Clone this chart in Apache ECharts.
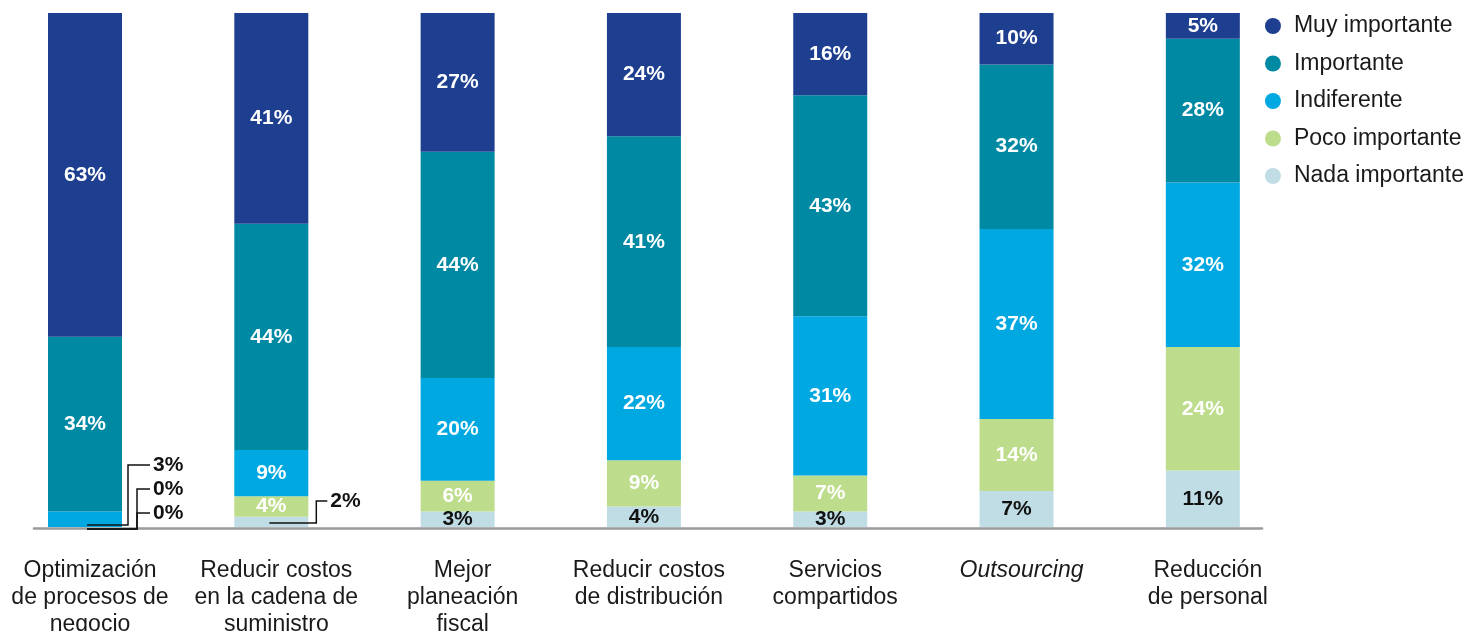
<!DOCTYPE html>
<html>
<head>
<meta charset="utf-8">
<script src="https://cdn.jsdelivr.net/npm/echarts@6/dist/echarts.min.js"></script>
<style>
html,body{margin:0;padding:0;background:#fff;}
#chart{width:1465px;height:631px;}
</style>
</head>
<body>
<div id="chart"></div>
<script>
// ---- data ----
var categories = [
  'Optimización\nde procesos de\nnegocio',
  'Reducir costos\nen la cadena de\nsuministro',
  'Mejor\nplaneación\nfiscal',
  'Reducir costos\nde distribución',
  'Servicios\ncompartidos',
  'Outsourcing',
  'Reducción\nde personal'
];
var seriesNames = ['Nada importante', 'Poco importante', 'Indiferente', 'Importante', 'Muy importante'];
var nadaImportante = [0, 2, 3, 4, 3, 7, 11];
var pocoImportante = [0, 4, 6, 9, 7, 14, 24];
var indiferente    = [3, 9, 20, 22, 31, 37, 32];
var importante     = [34, 44, 44, 41, 43, 32, 28];
var muyImportante  = [63, 41, 27, 24, 16, 10, 5];
var seriesValues = [nadaImportante, pocoImportante, indiferente, importante, muyImportante];
// segments labelled outside with a leader line: [category index, series index]
var leaderSegments = [[0, 2], [0, 1], [0, 0], [1, 0]];

// ---- style / layout ----
var colors = ['#c0dde6', '#bddd8c', '#00a8e1', '#0089a3', '#1e3f8f'];
var labelColors = ['#111', '#fff', '#fff', '#fff', '#fff'];
var FONT = "'Liberation Sans', Arial, sans-serif";
// pixel offsets for leader lines (start dx, anchor dy, elbow dx, end dx, label dy from base)
var leaderLayout = [
  {sx: 2, ady: -2, ex: 43, end: 65, ly: -62},
  {sx: 2, ady: 2, ex: 52, end: 65, ly: -38},
  {sx: 2, ady: 2, ex: 52, end: 65, ly: -14},
  {sx: -2, ady: -4, ex: 45, end: 56, ly: -26}
];

function isLeader(s, c) {
  return leaderSegments.some(function (p) { return p[0] === c && p[1] === s; });
}

var chart = echarts.init(document.getElementById('chart'), null, {renderer: 'canvas'});

var barSeries = seriesNames.map(function (name, s) {
  return {
    name: name,
    type: 'bar',
    stack: 'total',
    barWidth: 74,
    xAxisIndex: 0,
    yAxisIndex: 0,
    itemStyle: {color: colors[s]},
    label: {
      show: true,
      position: 'inside',
      formatter: '{c}%',
      color: labelColors[s],
      fontFamily: FONT,
      fontWeight: 'bold',
      fontSize: 21
    },
    data: seriesValues[s].map(function (v, c) {
      return isLeader(s, c) ? {value: v, label: {show: false}} : v;
    })
  };
});

var leaderSeries = {
  type: 'custom',
  xAxisIndex: 0,
  yAxisIndex: 0,
  silent: true,
  z: 5,
  data: leaderSegments.map(function (p, i) { return [p[0], i]; }),
  renderItem: function (params, api) {
    var i = params.dataIndex;
    var c = leaderSegments[i][0], s = leaderSegments[i][1];
    var L = leaderLayout[i];
    var base = 0;
    for (var k = 0; k < s; k++) base += seriesValues[k][c];
    var p0 = api.coord([c, 0]);
    var pb = api.coord([c, base]);
    var x0 = p0[0] + L.sx;
    var ya = pb[1] + L.ady;
    var xe = p0[0] + L.ex;
    var yl = p0[1] + L.ly;
    var xend = p0[0] + L.end;
    return {
      type: 'group',
      children: [
        {
          type: 'polyline',
          shape: {points: [[x0, ya], [xe, ya], [xe, yl], [xend, yl]]},
          style: {stroke: '#111', lineWidth: 1.5, fill: null}
        },
        {
          type: 'text',
          style: {
            x: xend + 3, y: yl,
            text: seriesValues[s][c] + '%',
            fill: '#111',
            font: 'bold 21px ' + FONT,
            verticalAlign: 'middle',
            align: 'left'
          }
        }
      ]
    };
  }
};

var option = {
  animation: false,
  backgroundColor: '#fff',
  legend: {
    orient: 'vertical',
    right: 1,
    top: 14,
    padding: 0,
    align: 'left',
    itemWidth: 32,
    itemHeight: 16,
    itemGap: 13.5,
    itemTextGap: 6,
    icon: 'circle',
    data: ['Muy importante', 'Importante', 'Indiferente', 'Poco importante', 'Nada importante'],
    textStyle: {fontFamily: FONT, fontSize: 23, color: '#1a1a1a', lineHeight: 24},
    selectedMode: false
  },
  grid: [
    {left: -8.15, right: 169, top: 13, bottom: 104, outerBoundsMode: 'none', containLabel: false},
    {left: 34, right: 203, top: 13, bottom: 103, outerBoundsMode: 'none', containLabel: false}
  ],
  xAxis: [
    {
      type: 'category',
      gridIndex: 0,
      data: categories,
      axisLine: {show: false},
      axisTick: {show: false},
      axisLabel: {
        margin: 30,
        interval: 0,
        hideOverlap: false,
        fontFamily: FONT,
        fontSize: 23,
        lineHeight: 27,
        padding: [0, 0, 0, 10],
        color: '#1a1a1a',
        formatter: function (v) {
          return v === 'Outsourcing' ? '{it|' + v + '}' : v;
        },
        rich: {
          it: {fontStyle: 'italic', fontFamily: FONT, fontSize: 23, lineHeight: 27, color: '#1a1a1a'}
        }
      }
    },
    {
      type: 'value',
      gridIndex: 1,
      min: 0, max: 1,
      axisLine: {show: true, onZero: false, lineStyle: {color: '#9a9a9a', width: 2.5}},
      axisTick: {show: false},
      axisLabel: {show: false},
      splitLine: {show: false}
    }
  ],
  yAxis: [
    {type: 'value', gridIndex: 0, min: 0, max: 100, show: false},
    {type: 'value', gridIndex: 1, min: 0, max: 1, show: false}
  ],
  series: barSeries.concat([leaderSeries])
};

chart.setOption(option);
</script>
</body>
</html>
